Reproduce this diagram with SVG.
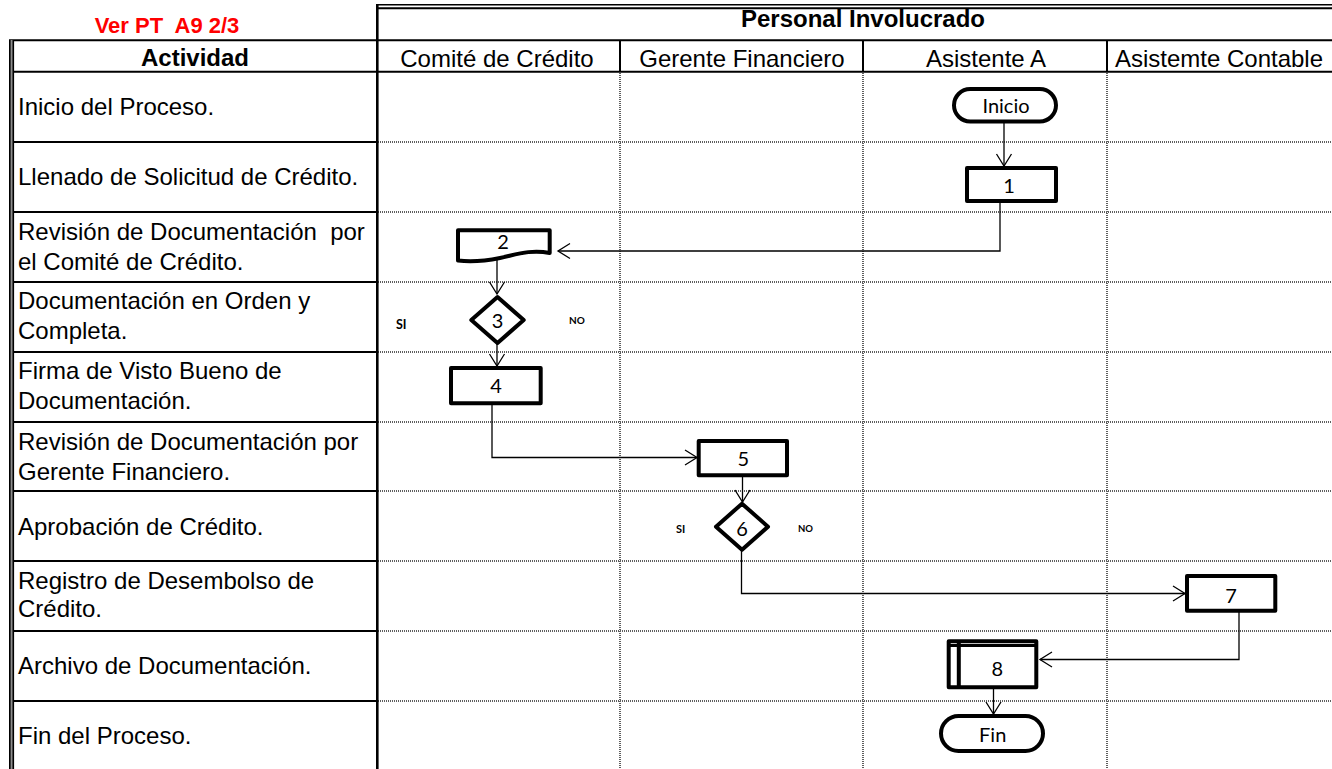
<svg xmlns="http://www.w3.org/2000/svg" width="1332" height="769" viewBox="0 0 1332 769">
  <style>
    .hdr { font-family: "Liberation Sans", Arial, sans-serif; font-size: 24px; font-weight: bold; fill: #000; }
    .col { font-family: "Liberation Sans", Arial, sans-serif; font-size: 24px; fill: #000; text-anchor: middle; }
    .act { font-family: "Liberation Sans", Arial, sans-serif; font-size: 24px; fill: #000; }
    .lbl { font-family: Lato, "Open Sans", sans-serif; font-size: 20px; fill: #000; text-anchor: middle; }
    .yn  { font-family: Lato, "Open Sans", sans-serif; font-weight: bold; fill: #000; }
    .solid { stroke: #000; stroke-width: 2; fill: none; }
    .dot { stroke: #5e5e5e; stroke-width: 2; stroke-dasharray: 1 1; fill: none; }
    .shape { fill: #fff; stroke: #000; stroke-width: 4; stroke-linejoin: round; }
    .conn { fill: none; stroke: #000; stroke-width: 1.3; }
  </style>
  <defs>
    <marker id="arrow" viewBox="-14 -10 16 20" refX="0" refY="0" markerWidth="16" markerHeight="20" markerUnits="userSpaceOnUse" orient="auto">
      <path d="M-12,-7.5 L0,0 L-12,7.5" fill="none" stroke="#000" stroke-width="1.3"/>
    </marker>
  </defs>

  <rect width="1332" height="769" fill="#fff"/>

  <!-- table grid -->
  <g id="grid">
    <!-- dotted cell lines in the role columns -->
    <g class="dot">
      <line x1="620" y1="73" x2="620" y2="769"/>
      <line x1="863" y1="73" x2="863" y2="769"/>
      <line x1="1107" y1="73" x2="1107" y2="769"/>
      <line x1="378" y1="142" x2="1332" y2="142"/>
      <line x1="378" y1="212" x2="1332" y2="212"/>
      <line x1="378" y1="282" x2="1332" y2="282"/>
      <line x1="378" y1="352" x2="1332" y2="352"/>
      <line x1="378" y1="422" x2="1332" y2="422"/>
      <line x1="378" y1="491" x2="1332" y2="491"/>
      <line x1="378" y1="561" x2="1332" y2="561"/>
      <line x1="378" y1="631" x2="1332" y2="631"/>
      <line x1="378" y1="701" x2="1332" y2="701"/>
    </g>
    <!-- activity column row lines -->
    <g class="solid">
      <line x1="13" y1="142" x2="377" y2="142"/>
      <line x1="13" y1="212" x2="377" y2="212"/>
      <line x1="13" y1="282" x2="377" y2="282"/>
      <line x1="13" y1="352" x2="377" y2="352"/>
      <line x1="13" y1="422" x2="377" y2="422"/>
      <line x1="13" y1="491" x2="377" y2="491"/>
      <line x1="13" y1="561" x2="377" y2="561"/>
      <line x1="13" y1="631" x2="377" y2="631"/>
      <line x1="13" y1="701" x2="377" y2="701"/>
      <!-- header lines -->
      <line x1="9" y1="40.3" x2="1332" y2="40.3"/>
      <line x1="9" y1="71.7" x2="1332" y2="71.7"/>
      <line x1="620" y1="40" x2="620" y2="72"/>
      <line x1="863" y1="40" x2="863" y2="72"/>
      <line x1="1107" y1="40" x2="1107" y2="72"/>
    </g>
    <!-- double top border -->
    <line x1="376" y1="4.8" x2="1332" y2="4.8" stroke="#000" stroke-width="1.6"/>
    <line x1="376" y1="8.3" x2="1332" y2="8.3" stroke="#000" stroke-width="2"/>
    <!-- column divider after the activity column -->
    <line x1="377.3" y1="4" x2="377.3" y2="769" stroke="#000" stroke-width="2.6"/>
    <!-- double left border -->
    <rect x="9" y="40" width="5" height="729" fill="#8c8c8c"/>
    <line x1="9.8" y1="40" x2="9.8" y2="769" stroke="#000" stroke-width="1.6"/>
    <line x1="13.3" y1="40" x2="13.3" y2="769" stroke="#000" stroke-width="1.6"/>
  </g>

  <!-- headers -->
  <g id="headers">
    <text x="167" y="33" class="hdr" style="fill:#ff0000;font-size:22px" text-anchor="middle" xml:space="preserve">Ver PT  A9 2/3</text>
    <text x="863" y="27" class="hdr" text-anchor="middle">Personal Involucrado</text>
    <text x="195" y="66" class="hdr" text-anchor="middle">Actividad</text>
    <text x="497" y="66.5" class="col">Comité de Crédito</text>
    <text x="742" y="66.5" class="col">Gerente Financiero</text>
    <text x="986" y="66.5" class="col">Asistente A</text>
    <text x="1219" y="66.5" class="col">Asistemte Contable</text>
  </g>

  <!-- activity descriptions -->
  <g id="activities" class="act">
    <text x="18" y="115">Inicio del Proceso.</text>
    <text x="18" y="185">Llenado de Solicitud de Crédito.</text>
    <text x="18" y="240" xml:space="preserve">Revisión de Documentación  por</text>
    <text x="18" y="270">el Comité de Crédito.</text>
    <text x="18" y="308.5">Documentación en Orden y</text>
    <text x="18" y="338.5">Completa.</text>
    <text x="18" y="378.5">Firma de Visto Bueno de</text>
    <text x="18" y="408.5">Documentación.</text>
    <text x="18" y="449.5">Revisión de Documentación por</text>
    <text x="18" y="480">Gerente Financiero.</text>
    <text x="18" y="535">Aprobación de Crédito.</text>
    <text x="18" y="588.5">Registro de Desembolso de</text>
    <text x="18" y="617">Crédito.</text>
    <text x="18" y="673.5">Archivo de Documentación.</text>
    <text x="18" y="743.5">Fin del Proceso.</text>
  </g>

  <!-- connectors -->
  <g id="connectors" class="conn">
    <path d="M1004,123 V166" marker-end="url(#arrow)"/>
    <path d="M1000,197 V251 H558" marker-end="url(#arrow)"/>
    <path d="M497,259 V294" marker-end="url(#arrow)"/>
    <path d="M497,344 V366" marker-end="url(#arrow)"/>
    <path d="M492,404 V457.5 H697" marker-end="url(#arrow)"/>
    <path d="M742.5,477 V502" marker-end="url(#arrow)"/>
    <path d="M741.5,550 V593.5 H1185" marker-end="url(#arrow)"/>
    <path d="M1239,612 V659.5 H1040" marker-end="url(#arrow)"/>
    <path d="M993.5,686 V714" marker-end="url(#arrow)"/>
  </g>

  <!-- flow nodes -->
  <g id="node-inicio">
    <rect x="954" y="89" width="102" height="32.5" rx="16.2" class="shape" stroke-width="3.6"/>
    <text x="1006" y="113.3" class="lbl">Inicio</text>
  </g>
  <g id="node-1">
    <rect x="967" y="168" width="89" height="33" class="shape"/>
    <text x="1009" y="192.7" class="lbl">1</text>
  </g>
  <g id="node-2">
    <path d="M458,230.3 H549.7 V253 C530,249 515,255 500,258 C485,261 470,262 458,260.5 Z" class="shape"/>
    <text x="503" y="249.3" class="lbl">2</text>
  </g>
  <g id="node-3">
    <path d="M497.5,297 L523.7,320 L497.5,343 L471.3,320 Z" class="shape"/>
    <text x="497.5" y="328.3" class="lbl">3</text>
  </g>
  <text x="396" y="329" class="yn" font-size="12.5">SI</text>
  <text x="569" y="324" class="yn" font-size="10">NO</text>
  <g id="node-4">
    <rect x="451" y="368" width="89.7" height="35.3" class="shape"/>
    <text x="496" y="393.3" class="lbl">4</text>
  </g>
  <g id="node-5">
    <rect x="698.7" y="441" width="88.3" height="34.3" class="shape"/>
    <text x="743.3" y="466" class="lbl">5</text>
  </g>
  <g id="node-6">
    <path d="M742,503.7 L768,526.7 L742,549.7 L716,526.7 Z" class="shape"/>
    <text x="742" y="535.7" class="lbl">6</text>
  </g>
  <text x="676" y="533" class="yn" font-size="11">SI</text>
  <text x="798" y="531.7" class="yn" font-size="9.5">NO</text>
  <g id="node-7">
    <rect x="1187" y="576" width="88.3" height="34.7" class="shape"/>
    <text x="1231" y="602.7" class="lbl">7</text>
  </g>
  <g id="node-8">
    <rect x="948.7" y="641.3" width="87.6" height="46" class="shape"/>
    <line x1="958.8" y1="641.3" x2="958.8" y2="687.3" stroke="#000" stroke-width="4"/>
    <line x1="948.7" y1="645.5" x2="1036.3" y2="645.5" stroke="#000" stroke-width="3"/>
    <text x="997.3" y="676" class="lbl">8</text>
  </g>
  <g id="node-fin">
    <rect x="941" y="716" width="102" height="35" rx="17.5" class="shape" stroke-width="3.6"/>
    <text x="992.7" y="741.7" class="lbl">Fin</text>
  </g>
</svg>
